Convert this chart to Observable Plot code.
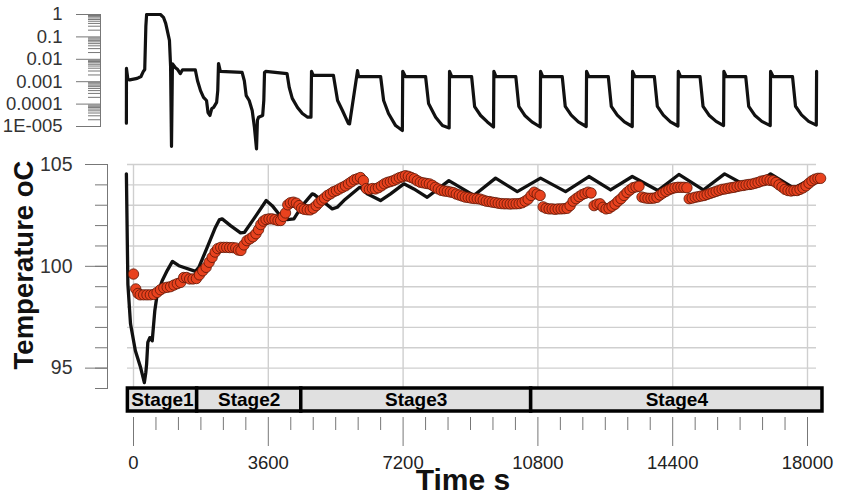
<!DOCTYPE html>
<html><head><meta charset="utf-8">
<script src="https://cdn.jsdelivr.net/npm/d3@7"></script>
<script src="https://cdn.jsdelivr.net/npm/@observablehq/plot@0.6"></script>
<style>
html,body{margin:0;padding:0;background:#fff;}
#chart{position:relative;width:841px;height:496px;overflow:hidden;font-family:"Liberation Sans",Arial,sans-serif;}
#chart svg{position:absolute;top:0;left:0;background:transparent;overflow:visible;}
.lbl{position:absolute;font-weight:bold;color:#111;white-space:nowrap;text-align:center;}
</style></head><body><div id="chart"></div>
<script>
// ---------- data ----------
const xTicks = [0, 3600, 7200, 10800, 14400, 18000];
const xTickLabels = ["0", "3600", "7200", "10800", "14400", "18000"];
const xMinorTicks = [600,1200,1800,2400,3000,4200,4800,5400,6000,6600,7800,8400,9000,9600,10200,11400,12000,12600,13200,13800,15000,15600,16200,16800,17400];
const topTickValues = [1, 0.1, 0.01, 0.001, 0.0001, 0.00001];
const topTickLabels = ["1", "0.1", "0.01", "0.001", "0.0001", "1E-005"];
const tempMajorTicks = [95, 100, 105];
const tempMajorLabels = ["95", "100", "105"];
const tempMinorTicks = [94, 95, 96, 97, 98, 99, 100, 101, 102, 103, 104, 105];
const tempGrid = [95, 96, 97, 98, 99, 100, 101, 102, 103, 104, 105];

const stageNames = ["Stage1", "Stage2", "Stage3", "Stage4"];
const stageStart = [-150, 1700, 4480, 10620];
const stageEnd = [1700, 4480, 10620, 18400];

// top panel (log scale), [time s, value]
const topSeries = [
[-190,1.4e-5],[-188,0.0039],[-150,0.0013],[-100,0.0012],[0,0.0013],[100,0.0014],[200,0.0017],[260,0.0028],[300,0.0035],[330,0.3],[350,1],[720,1],[800,0.75],[860,0.4],[900,0.2],[960,0.07],[990,0.005],[1015,1.3e-6],[1040,0.0063],[1120,0.0042],[1180,0.0035],[1250,0.0023],[1310,0.0034],[1650,0.0034],[1710,0.0011],[1790,4e-4],[1870,2e-4],[1950,1.45e-4],[1990,4.2e-5],[2040,3.1e-5],[2090,6.3e-5],[2140,7.1e-5],[2220,1.2e-4],[2250,4e-4],[2270,0.0065],[2320,0.0029],[2900,0.0026],[2960,0.0011],[3010,2.4e-4],[3090,1.45e-4],[3170,5.2e-5],[3230,9e-6],[3285,1e-6],[3310,1.9e-5],[3340,2.6e-5],[3450,3.1e-5],[3480,1.45e-4],[3499,0.0026],[3530,0.0029],[4100,0.0023],[4160,5.5e-4],[4240,1.8e-4],[4380,7.1e-5],[4510,3.8e-5],[4650,2.6e-5],[4740,2.6e-5],[4754,0.0029],[4800,0.0019],[5340,0.0019],[5450,1.45e-4],[5580,5.2e-5],[5740,1.35e-5],[5770,1.3e-5],[5983,0.0031],[6010,0.0017],[6600,0.0017],[6680,1.45e-4],[6810,3.8e-5],[7000,1.1e-5],[7180,6.6e-6],[7190,0.0029],[7260,0.0017],[7800,0.0017],[7880,1.07e-4],[8070,2.6e-5],[8250,1.1e-5],[8430,8.6e-6],[8440,0.0029],[8500,0.0017],[9030,0.0017],[9110,7.8e-5],[9270,3.1e-5],[9450,1.6e-5],[9615,9.5e-6],[9624,0.0029],[9680,0.0017],[10210,0.0017],[10290,8e-5],[10450,3.1e-5],[10640,1.6e-5],[10862,9.5e-6],[10871,0.0029],[10930,0.0017],[11450,0.0017],[11530,8e-5],[11690,3.2e-5],[11880,1.6e-5],[12090,1e-5],[12100,0.0029],[12160,0.0017],[12680,0.0017],[12760,8e-5],[12920,3.2e-5],[13110,1.6e-5],[13320,1e-5],[13328,0.0029],[13390,0.0017],[13910,0.0017],[13990,8e-5],[14150,3.2e-5],[14340,1.6e-5],[14540,1.05e-5],[14549,0.0029],[14610,0.0017],[15130,0.0017],[15210,8e-5],[15370,3.2e-5],[15560,1.7e-5],[15758,1.1e-5],[15767,0.0029],[15830,0.0017],[16350,0.0017],[16430,8e-5],[16590,3.2e-5],[16780,1.7e-5],[17005,1.1e-5],[17014,0.0029],[17080,0.0017],[17600,0.0017],[17680,8e-5],[17840,3.3e-5],[18030,1.7e-5],[18235,1.15e-5],[18243,0.0029]
];

// model temperature (black line), [time s, °C]
const modelSeries = [
[-190,104.54],[-150,99.13],[-80,97.18],[50,95.85],[190,95.03],[290,94.29],[330,94.8],[350,95.2],[382,96.26],[436,96.5],[500,96.34],[569,97.82],[633,98.64],[766,99.29],[900,99.79],[1040,100.24],[1211,100.03],[1656,99.75],[1745,99.95],[1968,100.93],[2190,101.92],[2290,102.28],[2368,102.33],[2591,102.0],[2858,101.64],[2965,101.67],[3213,102.33],[3544,103.23],[3704,102.98],[3882,102.57],[4105,102.29],[4283,102.33],[4506,102.98],[4773,103.56],[4830,103.52],[4995,103.28],[5307,102.82],[5441,102.9],[5617,103.23],[6018,103.85],[6063,103.88],[6241,103.56],[6597,103.23],[6865,103.56],[7220,104.05],[7487,103.8],[7844,103.39],[8422,104.21],[9089,103.48],[9669,104.33],[10249,103.67],[10871,104.33],[11539,103.67],[12162,104.41],[12741,103.75],[13320,104.41],[14004,103.72],[14565,104.51],[15217,103.75],[15786,104.54],[16480,103.84],[17014,104.54],[17637,103.84],[18260,104.46]
];

// measured temperature (red dots), [time s, °C]
const measuredSeries = [
[0,99.62],[60,98.89],[120,98.67],[180,98.6],[270,98.6],[360,98.6],[450,98.6],[540,98.62],[630,98.72],[720,98.85],[810,98.94],[900,98.97],[990,99.0],[1080,99.08],[1170,99.15],[1260,99.21],[1340,99.45],[1420,99.45],[1500,99.38],[1590,99.38],[1680,99.4],[1760,99.58],[1850,99.78],[1940,99.95],[2020,100.2],[2100,100.44],[2180,100.7],[2250,100.87],[2330,100.93],[2410,100.93],[2490,100.93],[2570,100.92],[2650,100.92],[2730,100.9],[2800,100.8],[2870,100.78],[2950,101.05],[3030,101.26],[3110,101.35],[3190,101.45],[3270,101.6],[3340,101.8],[3400,102.05],[3470,102.22],[3540,102.3],[3620,102.33],[3700,102.33],[3780,102.3],[3860,102.25],[3930,102.25],[4000,102.45],[4060,102.62],[4120,103.02],[4190,103.12],[4270,103.15],[4350,103.1],[4420,102.98],[4490,102.85],[4560,102.8],[4640,102.78],[4720,102.77],[4800,102.85],[4880,102.98],[4950,103.12],[5030,103.25],[5100,103.35],[5180,103.48],[5260,103.56],[5340,103.66],[5420,103.72],[5500,103.8],[5580,103.88],[5660,103.95],[5740,104.05],[5820,104.15],[5900,104.25],[5980,104.3],[6060,104.36],[6140,104.21],[6220,103.82],[6300,103.78],[6380,103.82],[6460,103.8],[6540,103.86],[6620,103.95],[6700,104.05],[6780,104.12],[6860,104.16],[6940,104.21],[7020,104.28],[7100,104.35],[7180,104.4],[7260,104.45],[7340,104.42],[7420,104.36],[7500,104.3],[7580,104.2],[7660,104.13],[7740,104.1],[7820,104.07],[7900,104.05],[7980,103.98],[8060,103.88],[8140,103.8],[8220,103.73],[8300,103.7],[8380,103.68],[8460,103.65],[8540,103.62],[8620,103.55],[8700,103.5],[8780,103.45],[8860,103.4],[8940,103.38],[9020,103.35],[9100,103.33],[9180,103.32],[9260,103.3],[9340,103.25],[9420,103.2],[9500,103.18],[9580,103.15],[9660,103.13],[9740,103.1],[9820,103.08],[9900,103.07],[9980,103.07],[10060,103.06],[10140,103.07],[10220,103.07],[10300,103.08],[10380,103.12],[10460,103.2],[10540,103.3],[10620,103.48],[10700,103.64],[10780,103.55],[10860,103.48],[10940,102.92],[11020,102.85],[11100,102.82],[11180,102.82],[11260,102.8],[11340,102.82],[11420,102.82],[11500,102.83],[11580,102.85],[11660,102.98],[11740,103.2],[11820,103.32],[11900,103.42],[11980,103.52],[12060,103.58],[12140,103.64],[12220,103.6],[12300,102.98],[12380,103.05],[12460,103.07],[12540,102.9],[12620,102.82],[12700,102.85],[12780,102.95],[12860,103.05],[12940,103.2],[13020,103.32],[13100,103.48],[13180,103.63],[13260,103.75],[13340,103.86],[13420,103.9],[13500,103.93],[13580,103.4],[13660,103.36],[13740,103.34],[13820,103.34],[13900,103.35],[13980,103.39],[14060,103.5],[14140,103.6],[14220,103.68],[14300,103.76],[14380,103.82],[14460,103.86],[14540,103.88],[14620,103.88],[14700,103.88],[14780,103.86],[14840,103.32],[14920,103.35],[15000,103.39],[15080,103.42],[15160,103.45],[15240,103.48],[15320,103.53],[15400,103.58],[15480,103.63],[15560,103.68],[15640,103.73],[15720,103.78],[15800,103.8],[15880,103.83],[15960,103.86],[16040,103.88],[16120,103.92],[16200,103.95],[16280,103.97],[16360,104.0],[16440,104.02],[16520,104.04],[16600,104.08],[16680,104.12],[16760,104.18],[16840,104.21],[16920,104.25],[17000,104.22],[17080,104.2],[17160,104.12],[17240,104.0],[17320,103.9],[17400,103.78],[17480,103.72],[17560,103.7],[17640,103.72],[17720,103.72],[17800,103.78],[17880,103.85],[17960,103.95],[18040,104.08],[18120,104.2],[18200,104.28],[18280,104.32],[18350,104.32]
];

// ---------- build ----------
const W = 841, H = 496;
const xScale = {domain: [0, 18000], range: [133, 807]};
const FONT = "'Liberation Sans', Arial, sans-serif";
const baseStyle = {fontFamily: FONT, background: "transparent", overflow: "visible", color: "#333"};
const topLabelMap = new Map(topTickValues.map((v, i) => [v, topTickLabels[i]]));
const tempLabelMap = new Map(tempMajorTicks.map((v, i) => [v, tempMajorLabels[i]]));
const xLabelMap = new Map(xTicks.map((v, i) => [v, xTickLabels[i]]));
const topMinor = [];
for (const e of [-5, -4, -3, -2, -1]) for (let k = 2; k <= 9; k++) topMinor.push(k * Math.pow(10, e));
const stages = stageNames.map((n, i) => ({name: n, start: stageStart[i], end: stageEnd[i], mid: (stageStart[i] + stageEnd[i]) / 2}));
const topData = topSeries.map(([t, v]) => ({t, v}));
const modelData = modelSeries.map(([t, v]) => ({t, v}));
const measData = measuredSeries.map(([t, v]) => ({t, v}));

const chart = document.getElementById("chart");

// top log panel
chart.append(Plot.plot({
  width: W, height: H, marginTop: 14, marginBottom: 370, marginLeft: 100, marginRight: 25,
  x: {...xScale, axis: null, label: null},
  y: {type: "log", domain: [1e-5, 1], axis: null, label: null},
  style: {...baseStyle, fontSize: "18px"},
  marks: [
    Plot.axisY({ticks: topMinor, tickSize: 12, tickFormat: () => "", stroke: "#777", label: null}),
    Plot.axisY({ticks: topTickValues, tickSize: 24, tickPadding: 14, tickFormat: d => topLabelMap.get(d), stroke: "#777", fill: "#333", fontSize: 18.5, label: null}),
    Plot.frame({anchor: "left", stroke: "#777"}),
    Plot.line(topData, {x: "t", y: "v", stroke: "#111", strokeWidth: 3.2, strokeLinejoin: "round"})
  ]
}));

// temperature panel
chart.append(Plot.plot({
  width: W, height: H, marginTop: 164, marginBottom: 108, marginLeft: 107, marginRight: 25,
  x: {...xScale, axis: null, label: null},
  y: {domain: [94, 105], axis: null, label: null},
  style: {...baseStyle, fontSize: "19px"},
  marks: [
    Plot.gridY({ticks: tempGrid, insetLeft: 20, stroke: "#cfcfcf", strokeOpacity: 1, strokeWidth: 1.4}),
    Plot.gridX({ticks: xTicks, stroke: "#cfcfcf", strokeOpacity: 1, strokeWidth: 1.4}),
    Plot.axisY({ticks: tempMinorTicks, tickSize: 12, tickFormat: () => "", stroke: "#777", label: null}),
    Plot.axisY({ticks: tempMajorTicks, tickSize: 22, tickPadding: 13, tickFormat: d => tempLabelMap.get(d), stroke: "#777", fill: "#333", fontSize: 19.5, label: null}),
    Plot.frame({anchor: "left", stroke: "#777"}),
    Plot.line(modelData, {x: "t", y: "v", stroke: "#111", strokeWidth: 3.3, strokeLinejoin: "round"}),
    Plot.dot(measData, {x: "t", y: "v", r: 5.2, fill: "#e8421e", stroke: "#5e1606", strokeWidth: 0.8})
  ]
}));

// stage bar
chart.append(Plot.plot({
  width: W, height: H, marginTop: 388, marginBottom: 85, marginLeft: 107, marginRight: 20,
  x: {...xScale, axis: null, label: null},
  style: {...baseStyle, fontSize: "19px"},
  marks: [
    Plot.rect(stages, {x1: "start", x2: "end", fill: "#e0e0e0", stroke: "#000", strokeWidth: 3.5}),
    Plot.text(stages, {x: "mid", text: "name", fontSize: 19, fontWeight: "bold", fill: "#000"})
  ]
}));

// x axis
chart.append(Plot.plot({
  width: W, height: H, marginTop: 400, marginBottom: 79, marginLeft: 107, marginRight: 20,
  x: {...xScale, label: null},
  style: {...baseStyle, fontSize: "18px"},
  marks: [
    Plot.axisX({ticks: xMinorTicks, tickSize: 13, tickFormat: () => "", stroke: "#777", label: null}),
    Plot.axisX({ticks: xTicks, tickSize: 29, tickPadding: 9, tickFormat: d => xLabelMap.get(d), stroke: "#777", fill: "#222", fontSize: 18.5, label: null})
  ]
}));

// titles
const yl = document.createElement("div");
yl.className = "lbl";
yl.textContent = "Temperature oC";
Object.assign(yl.style, {fontSize: "27.5px", width: "300px", left: (24 - 150) + "px", top: (265 - 16) + "px", lineHeight: "32px", transform: "rotate(-90deg)"});
chart.append(yl);
const xl = document.createElement("div");
xl.className = "lbl";
xl.textContent = "Time s";
Object.assign(xl.style, {fontSize: "30px", width: "200px", left: (463 - 100) + "px", top: "466px", lineHeight: "28px"});
chart.append(xl);
</script>
</body></html>
